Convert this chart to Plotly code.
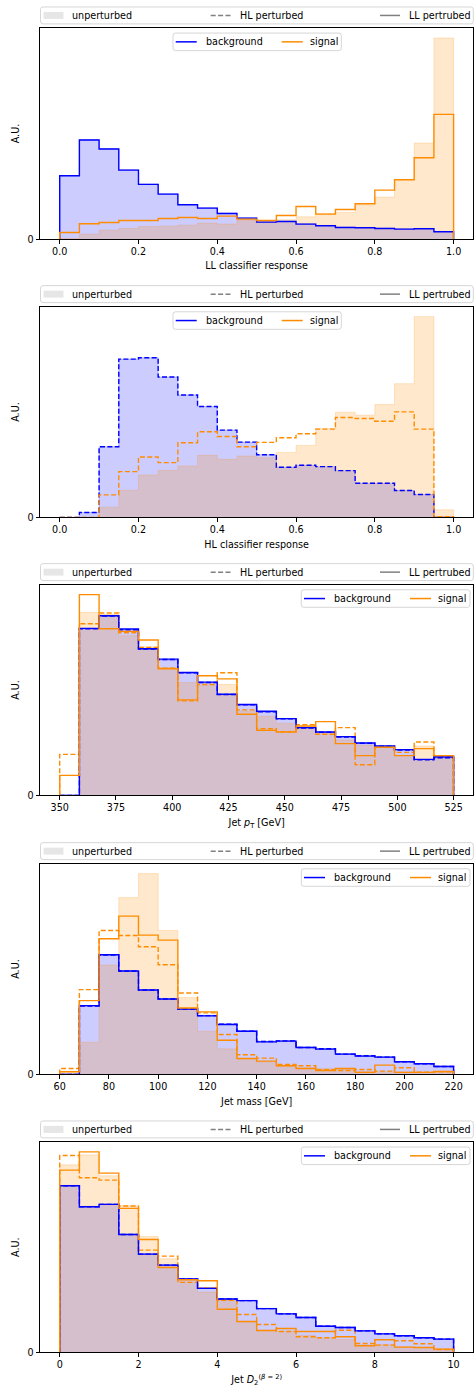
import plotly.graph_objects as go

W, H = 474, 1391
FONT = "DejaVu Sans"
FS = 9.6

BLUE = "rgb(0,0,255)"
ORANGE = "rgb(255,140,0)"
BLUE_FILL = "rgba(0,0,255,0.2)"
ORANGE_FILL = "rgba(255,140,0,0.2)"
GRAY = "rgb(128,128,128)"
GRAY_FILL = "rgba(128,128,128,0.2)"
DASH = "5px,2.4px"

# ---------------- data (arbitrary units) ----------------
# Panel 1: LL classifier response
ll_edges = [0.0, 0.05, 0.1, 0.15, 0.2, 0.25, 0.3, 0.35, 0.4, 0.45, 0.5,
            0.55, 0.6, 0.65, 0.7, 0.75, 0.8, 0.85, 0.9, 0.95, 1.0]
ll_bkg_unpert = [190, 298, 271, 208, 165, 136, 104, 94, 78, 64, 52, 54, 46, 41, 36, 35, 33, 31, 32, 23]
ll_sig_unpert = [2, 15, 27, 32, 38, 39, 42, 48, 45, 57, 55, 58, 67, 77, 80, 103, 126, 179, 288, 603]
ll_bkg_llpert = [190, 297, 270, 207, 164, 135, 103, 93, 77, 63, 51, 53, 45, 40, 35, 34, 32, 30, 31, 22]
ll_sig_llpert = [20, 46, 50, 56, 56, 62, 65, 62, 69, 60, 56, 71, 98, 75, 89, 106, 147, 178, 244, 374]

# Panel 2: HL classifier response
hl_edges = [0.0, 0.05, 0.1, 0.15, 0.2, 0.25, 0.3, 0.35, 0.4, 0.45, 0.5,
            0.55, 0.6, 0.65, 0.7, 0.75, 0.8, 0.85, 0.9, 0.95, 1.0]
hl_bkg_unpert = [0, 15, 213, 477, 481, 423, 369, 334, 263, 227, 189, 151, 157, 153, 141, 103, 103, 81, 69, 0]
hl_sig_unpert = [0, 0, 31, 82, 128, 142, 155, 187, 175, 185, 180, 196, 217, 268, 317, 308, 340, 403, 605, 23]
hl_bkg_hlpert = [0, 15, 213, 477, 481, 423, 369, 334, 263, 227, 189, 151, 157, 153, 141, 103, 103, 81, 69, 0]
hl_sig_hlpert = [0, 0, 68, 138, 182, 165, 225, 258, 244, 213, 226, 240, 252, 266, 301, 298, 290, 318, 266, 2]

# Panel 3: Jet pT [GeV]
pt_edges = [350, 358.75, 367.5, 376.25, 385, 393.75, 402.5, 411.25, 420, 428.75, 437.5,
            446.25, 455, 463.75, 472.5, 481.25, 490, 498.75, 507.5, 516.25, 525]
pt_bkg_unpert = [0, 498, 536, 494, 438, 405, 366, 336, 301, 270, 249, 228, 201, 188, 175, 155, 146, 135, 107, 112]
pt_sig_unpert = [0, 548, 542, 478, 445, 383, 338, 330, 332, 253, 237, 216, 208, 189, 166, 150, 146, 120, 148, 116]
pt_bkg_hlpert = [0, 499, 537, 496, 438, 407, 367, 338, 302, 271, 250, 229, 202, 189, 175, 156, 147, 136, 107, 113]
pt_sig_hlpert = [123, 514, 546, 487, 443, 381, 283, 332, 367, 256, 200, 191, 212, 183, 203, 92, 144, 129, 160, 117]
pt_bkg_llpert = [0, 500, 538, 498, 439, 408, 368, 339, 303, 272, 252, 230, 203, 190, 176, 157, 148, 137, 108, 115]
pt_sig_llpert = [60, 601, 499, 491, 465, 379, 286, 358, 349, 243, 195, 190, 208, 221, 155, 119, 144, 119, 140, 119]

# Panel 4: Jet mass [GeV]
m_edges = [60, 68, 76, 84, 92, 100, 108, 116, 124, 132, 140,
           148, 156, 164, 172, 180, 188, 196, 204, 212, 220]
m_bkg_unpert = [0, 205, 358, 310, 253, 226, 196, 178, 152, 131, 100, 102, 82, 78, 62, 57, 53, 39, 33, 25]
m_sig_unpert = [5, 97, 329, 532, 604, 433, 231, 130, 77, 47, 38, 25, 20, 18, 15, 10, 8, 8, 7, 8]
m_bkg_hlpert = [0, 206, 359, 311, 254, 227, 197, 177, 151, 130, 99, 101, 81, 77, 61, 56, 52, 38, 32, 24]
m_sig_hlpert = [18, 255, 433, 418, 384, 330, 245, 185, 120, 59, 49, 30, 26, 14, 12, 15, 10, 20, 7, 8]
m_bkg_llpert = [0, 207, 360, 311, 254, 227, 197, 176, 150, 130, 98, 100, 81, 76, 61, 55, 52, 38, 32, 24]
m_sig_llpert = [8, 222, 408, 476, 419, 404, 200, 188, 103, 48, 40, 26, 18, 12, 18, 6, 28, 6, 6, 9]

# Panel 5: Jet D2 (beta=2)
d2_edges = [0, 0.5, 1, 1.5, 2, 2.5, 3, 3.5, 4, 4.5, 5,
            5.5, 6, 6.5, 7, 7.5, 8, 8.5, 9, 9.5, 10]
d2_bkg_unpert = [503, 440, 447, 356, 297, 264, 222, 194, 162, 157, 133, 117, 106, 80, 76, 66, 57, 51, 45, 41]
d2_sig_unpert = [565, 595, 532, 442, 349, 282, 222, 182, 157, 92, 67, 64, 52, 44, 39, 22, 24, 17, 15, 10]
d2_bkg_hlpert = [502, 439, 446, 355, 296, 263, 221, 193, 161, 156, 132, 116, 105, 79, 75, 65, 56, 50, 44, 40]
d2_sig_hlpert = [593, 526, 519, 441, 308, 290, 211, 194, 157, 114, 84, 63, 47, 44, 67, 27, 22, 35, 26, 9]
d2_bkg_llpert = [502, 439, 446, 355, 296, 263, 221, 193, 161, 156, 132, 116, 105, 79, 75, 65, 56, 50, 44, 40]
d2_sig_llpert = [549, 604, 540, 434, 340, 256, 219, 216, 130, 93, 66, 72, 63, 63, 47, 20, 38, 16, 15, 10]

ll_ticks = [0.0, 0.2, 0.4, 0.6, 0.8, 1.0]
ll_ticklabels = ["0.0", "0.2", "0.4", "0.6", "0.8", "1.0"]
pt_ticks = [350, 375, 400, 425, 450, 475, 500, 525]
m_ticks = [60, 80, 100, 120, 140, 160, 180, 200, 220]
d2_ticks = [0, 2, 4, 6, 8, 10]

top_legend_labels = ["unperturbed", "HL perturbed", "LL pertrubed"]
inner_legend_labels = ["background", "signal"]

panels = [
    dict(edges=ll_edges, bu=ll_bkg_unpert, su=ll_sig_unpert, bh=None, sh=None,
         bl=ll_bkg_llpert, sl=ll_sig_llpert, ticks=ll_ticks, ticktext=ll_ticklabels,
         title="LL classifier response", leg="center"),
    dict(edges=hl_edges, bu=hl_bkg_unpert, su=hl_sig_unpert, bh=hl_bkg_hlpert, sh=hl_sig_hlpert,
         bl=None, sl=None, ticks=ll_ticks, ticktext=ll_ticklabels,
         title="HL classifier response", leg="center"),
    dict(edges=pt_edges, bu=pt_bkg_unpert, su=pt_sig_unpert, bh=pt_bkg_hlpert, sh=pt_sig_hlpert,
         bl=pt_bkg_llpert, sl=pt_sig_llpert, ticks=pt_ticks, ticktext=[str(t) for t in pt_ticks],
         title="Jet <i>p</i><sub>T</sub> [GeV]", leg="right"),
    dict(edges=m_edges, bu=m_bkg_unpert, su=m_sig_unpert, bh=m_bkg_hlpert, sh=m_sig_hlpert,
         bl=m_bkg_llpert, sl=m_sig_llpert, ticks=m_ticks, ticktext=[str(t) for t in m_ticks],
         title="Jet mass [GeV]", leg="right"),
    dict(edges=d2_edges, bu=d2_bkg_unpert, su=d2_sig_unpert, bh=d2_bkg_hlpert, sh=d2_sig_hlpert,
         bl=d2_bkg_llpert, sl=d2_sig_llpert, ticks=d2_ticks, ticktext=[str(t) for t in d2_ticks],
         title="Jet <i>D</i><sub>2</sub><sup>(<i>β</i> = 2)</sup>", leg="right"),
]

# ---------------- layout geometry (pixels, y downwards) ----------------
AX_L, AX_R = 40.0, 473.3
AX_BOX = [(28.0, 240.0), (307.7, 519.3), (586.7, 798.3), (866.7, 1078.3), (1146.0, 1357.3)]


def X(p):
    return p / W


def Y(p):
    return 1 - p / H


def step_xy(edges, vals):
    x = [edges[0]] + list(edges)
    y = [0] + list(vals) + [0]
    return x, y


shapes = []
annotations = []


def legend_box(x0, y0, x1, y1, r=2.5):
    path = (f"M{X(x0 + r)},{Y(y0)} L{X(x1 - r)},{Y(y0)} Q{X(x1)},{Y(y0)} {X(x1)},{Y(y0 + r)} "
            f"L{X(x1)},{Y(y1 - r)} Q{X(x1)},{Y(y1)} {X(x1 - r)},{Y(y1)} "
            f"L{X(x0 + r)},{Y(y1)} Q{X(x0)},{Y(y1)} {X(x0)},{Y(y1 - r)} "
            f"L{X(x0)},{Y(y0 + r)} Q{X(x0)},{Y(y0)} {X(x0 + r)},{Y(y0)} Z")
    shapes.append(dict(type="path", xref="paper", yref="paper", path=path, layer="above",
                       fillcolor="rgba(255,255,255,0.8)",
                       line=dict(color="rgba(204,204,204,0.8)", width=1)))


def legend_line(x0, x1, yc, color, dash=None, width=1.5):
    shapes.append(dict(type="line", xref="paper", yref="paper", layer="above",
                       x0=X(x0), x1=X(x1), y0=Y(yc), y1=Y(yc),
                       line=dict(color=color, width=width, dash=dash if dash else "solid")))


def legend_patch(x0, x1, yc, color):
    shapes.append(dict(type="rect", xref="paper", yref="paper", layer="above",
                       x0=X(x0), x1=X(x1), y0=Y(yc + 3.5), y1=Y(yc - 3.5),
                       fillcolor=color, line=dict(width=0)))


def legend_text(x, yc, text):
    annotations.append(dict(xref="paper", yref="paper", x=X(x - 1), y=Y(yc), text=text,
                            showarrow=False, xanchor="left", yanchor="middle",
                            font=dict(family=FONT, size=FS, color="black")))


fig = go.Figure()
layout = dict(
    width=W, height=H, margin=dict(l=0, r=0, t=0, b=0),
    paper_bgcolor="white", plot_bgcolor="white",
    font=dict(family=FONT, size=FS, color="black"),
    showlegend=False,
)

for i, p in enumerate(panels):
    n = i + 1
    xa = "x" if n == 1 else f"x{n}"
    ya = "y" if n == 1 else f"y{n}"
    edges = p["edges"]

    series_max = max(max(s) for s in (p["bu"], p["su"], p["bh"], p["sh"], p["bl"], p["sl"]) if s is not None)

    # filled unperturbed histograms
    for vals, fc, nm in ((p["bu"], BLUE_FILL, "background unperturbed"),
                         (p["su"], ORANGE_FILL, "signal unperturbed")):
        x, y = step_xy(edges, vals)
        fig.add_trace(go.Scatter(x=x, y=y, mode="lines", name=nm,
                                 line=dict(shape="hv", color=fc, width=1),
                                 fill="tozeroy", fillcolor=fc, xaxis=xa, yaxis=ya, hoverinfo="skip"))
    # HL perturbed (dashed)
    for vals, c, nm in ((p["bh"], BLUE, "background HL perturbed"), (p["sh"], ORANGE, "signal HL perturbed")):
        if vals is None:
            continue
        x, y = step_xy(edges, vals)
        fig.add_trace(go.Scatter(x=x, y=y, mode="lines", name=nm,
                                 line=dict(shape="hv", color=c, width=1.4, dash=DASH),
                                 xaxis=xa, yaxis=ya, hoverinfo="skip"))
    # LL perturbed (solid)
    for vals, c, nm in ((p["bl"], BLUE, "background LL perturbed"), (p["sl"], ORANGE, "signal LL perturbed")):
        if vals is None:
            continue
        x, y = step_xy(edges, vals)
        fig.add_trace(go.Scatter(x=x, y=y, mode="lines", name=nm,
                                 line=dict(shape="hv", color=c, width=1.4),
                                 xaxis=xa, yaxis=ya, hoverinfo="skip"))

    top, bot = AX_BOX[i]
    span = edges[-1] - edges[0]
    axis_common = dict(showline=True, mirror=True, linecolor="black", linewidth=1,
                       ticks="outside", ticklen=3.5, tickwidth=0.8, tickcolor="black",
                       showgrid=False, zeroline=False, fixedrange=True,
                       tickfont=dict(family=FONT, size=FS, color="black"))
    layout["xaxis" if n == 1 else f"xaxis{n}"] = dict(
        axis_common, domain=[X(AX_L), X(AX_R)],
        range=[edges[0] - 0.05 * span, edges[-1] + 0.05 * span],
        tickvals=p["ticks"], ticktext=p["ticktext"], anchor=ya,
        title=dict(text=p["title"], standoff=6, font=dict(family=FONT, size=FS, color="black")))
    layout["yaxis" if n == 1 else f"yaxis{n}"] = dict(
        axis_common, domain=[Y(bot), Y(top)],
        range=[0, series_max * 1.05], tickvals=[0], ticktext=["0"], anchor=xa,
        title=dict(text="A.U.", standoff=6, font=dict(family=FONT, size=FS, color="black")))

    # ---- top legend (expanded across the axes width) ----
    ty0, ty1 = top - 21.0, top - 4.0
    tyc = (ty0 + ty1) / 2
    legend_box(40.5, ty0, 473.3, ty1)
    legend_patch(43.5, 63.5, tyc, GRAY_FILL)
    legend_text(71.3, tyc, top_legend_labels[0])
    legend_line(210.7, 230.7, tyc, GRAY, dash=DASH)
    legend_text(238.7, tyc, top_legend_labels[1])
    legend_line(380.0, 400.0, tyc, GRAY)
    legend_text(408.3, tyc, top_legend_labels[2])

    # ---- inner legend (background / signal) ----
    iy0, iy1 = top + 5.2, top + 22.8
    iyc = (iy0 + iy1) / 2
    if p["leg"] == "center":
        bx0, bx1 = 173.0, 341.3
    else:
        bx0, bx1 = 301.3, 470.0
    legend_box(bx0, iy0, bx1, iy1)
    legend_line(bx0 + 2.7, bx0 + 23.7, iyc, BLUE)
    legend_text(bx0 + 31.7, iyc, inner_legend_labels[0])
    legend_line(bx0 + 108.7, bx0 + 129.7, iyc, ORANGE)
    legend_text(bx0 + 135.7, iyc, inner_legend_labels[1])

layout["shapes"] = shapes
layout["annotations"] = annotations
fig.update_layout(**layout)
fig.write_html("out.html", config={"displayModeBar": False},
               post_script="document.body.style.margin='0';document.body.style.overflow='hidden';")
